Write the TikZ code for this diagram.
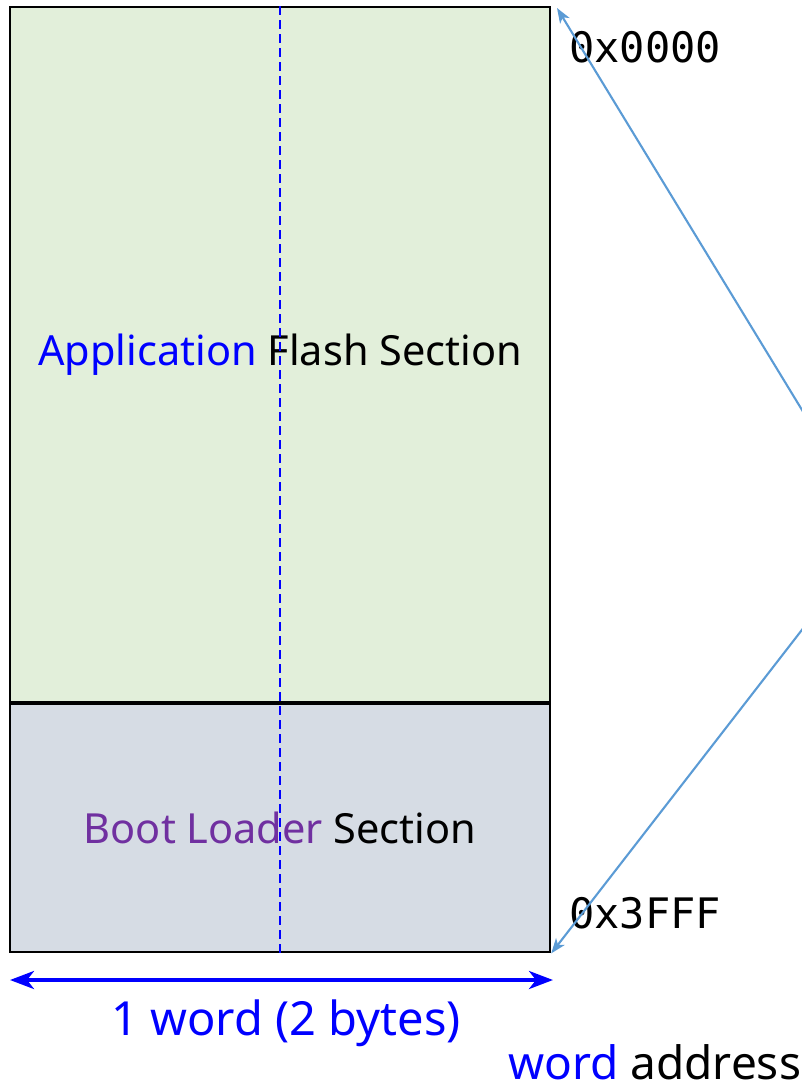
\documentclass[tikz,border=0pt]{standalone}
\usepackage{fontspec}
\setmainfont{Noto Sans}
\setmonofont{DejaVu Sans Mono}
\usetikzlibrary{arrows.meta}
\definecolor{appgreen}{RGB}{226,239,218}
\definecolor{bootgray}{RGB}{214,220,228}
\definecolor{bootpurple}{RGB}{112,48,160}
\definecolor{ptrblue}{RGB}{91,155,213}
\begin{document}
\begin{tikzpicture}[x=1pt,y=-1pt,
  section/.style={draw=black, line width=2.2pt, inner sep=0pt,
    minimum width=540pt, anchor=north west,
    font=\fontsize{41.5}{48}\selectfont},
  addr/.style={anchor=west, inner sep=0pt, font=\ttfamily\fontsize{42}{48}\selectfont},
  label/.style={inner sep=0pt, font=\fontsize{47}{54}\selectfont},
  ptr/.style={draw=ptrblue, line width=2.1pt,
    -{Stealth[length=15pt,width=11pt,inset=4pt]}},
  span/.style={draw=blue, line width=3.8pt,
    {Stealth[length=24pt,width=18pt,inset=7pt]}-{Stealth[length=24pt,width=18pt,inset=7pt]}}
]
\useasboundingbox (0,0) rectangle (802,1084);
\clip (0,0) rectangle (802,1084);

% memory blocks
\node[section, fill=appgreen, minimum height=695pt] (app) at (9,6)
  {\textcolor{blue}{Application} Flash Section};
\node[section, fill=bootgray, minimum height=248pt] (boot) at (app.south west)
  {\textcolor{bootpurple}{Boot Loader} Section};

% byte boundary inside the word
\draw[blue, line width=2pt, dash pattern=on 9pt off 5pt] (app.north) -- (boot.south);

% address labels
\node[addr] (a0) at (569,47) {0x0000};
\node[addr] (a1) at (569,913) {0x3FFF};

% pointers from the word address
\coordinate (src) at (877,533);
\coordinate (topend) at (557,8);
\draw[ptr] (src) -- (topend);
\draw[ptr] (src) -- (boot.south east);

% word width
\coordinate (wl) at (10,980);
\coordinate (wr) at (553,980);
\draw[span] (wl) -- (wr);
\node[label, text=blue] (wlabel) at (286,1023) {1 word (2 bytes)};
\node[label, anchor=base west, font=\fontsize{46}{54}\selectfont] (waddr) at (508,1079)
  {\textcolor{blue}{word} address};
\end{tikzpicture}
\end{document}
